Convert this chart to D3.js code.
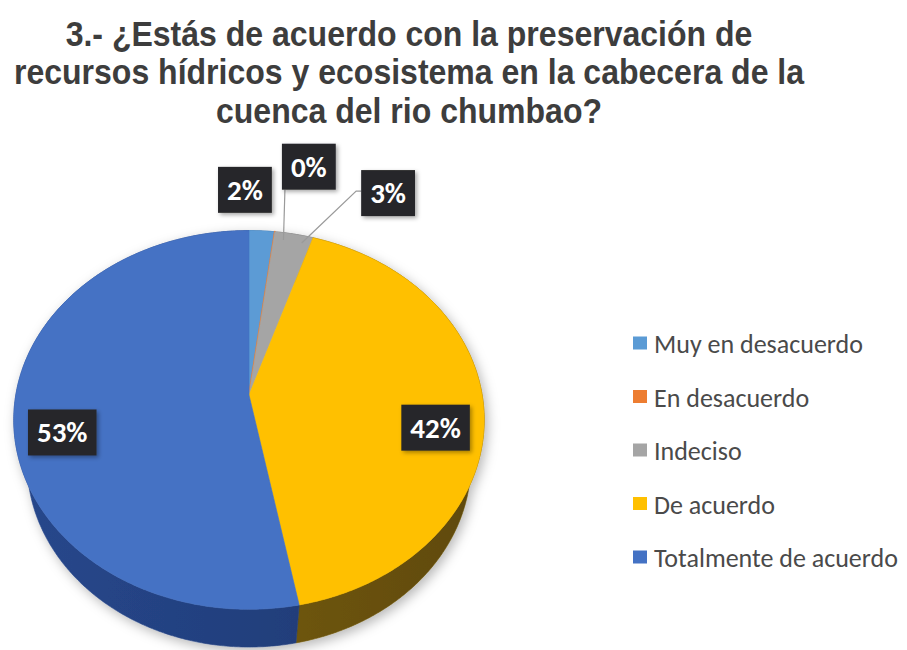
<!DOCTYPE html>
<html>
<head>
<meta charset="utf-8">
<script src="https://cdn.jsdelivr.net/npm/d3@7"></script>
<style>
  body { margin: 0; background: #ffffff; }
  svg { display: block; }
</style>
</head>
<body>
<svg id="chart" width="907" height="650"></svg>
<script>
// Survey question and answers
const titleLines = [
  "3.- ¿Estás de acuerdo con la preservación de",
  "recursos hídricos y ecosistema en la cabecera de la",
  "cuenca del rio chumbao?"
];
const categories = ["Muy en desacuerdo", "En desacuerdo", "Indeciso", "De acuerdo", "Totalmente de acuerdo"];
const values = [2, 0, 3, 42, 53];
const valueLabels = ["2%", "0%", "3%", "42%", "53%"];
const topColors = ["#5b9bd5", "#ed7d31", "#a5a5a5", "#ffc000", "#4472c4"];
const sideColors = ["#2c5c8c", "#8a4210", "#5e5e5e", "#6f5608", "#223f7c"];

// Placement of the small outside labels relative to their slice rim point
const outsideShift = [[-17, -41], [34, -65], [94, -41], null, null];
const hasLeader = [false, true, true, false, false];

const svg = d3.select("#chart");

const defs = svg.append("defs");
const shadow = defs.append("filter").attr("id", "pieShadow")
  .attr("x", "-20%").attr("y", "-20%").attr("width", "140%").attr("height", "140%");
shadow.append("feDropShadow").attr("dx", 3).attr("dy", 4)
  .attr("stdDeviation", 6).attr("flood-color", "#000").attr("flood-opacity", 0.28);
const boxShadow = defs.append("filter").attr("id", "boxShadow")
  .attr("x", "-30%").attr("y", "-30%").attr("width", "160%").attr("height", "160%");
boxShadow.append("feDropShadow").attr("dx", 2).attr("dy", 2)
  .attr("stdDeviation", 2).attr("flood-color", "#000").attr("flood-opacity", 0.35);

// Title: bold, set tall and slightly condensed
svg.append("g")
  .attr("transform", "translate(409, 0) scale(0.915, 1)")
  .selectAll("text").data(titleLines).join("text")
  .attr("x", 0)
  .attr("y", (d, i) => 46 + i * 38.5)
  .attr("text-anchor", "middle")
  .attr("font-family", "'Liberation Sans', Arial, sans-serif")
  .attr("font-weight", "bold")
  .attr("font-size", 35)
  .attr("fill", "#3d3d3d")
  .text(d => d);

// 3D pie: a tilted disc seen in perspective
const cx = 249, cy = 395;     // projected centre of the top face
const focal = 1068, dist = 4.58;
const sinT = 0.798, cosT = 0.603;
const thick = 0.339;           // slab thickness in disc radii

function project(theta, r, depth) {
  const u = r * Math.sin(theta), v = r * Math.cos(theta);
  const Y = v * sinT - depth * cosT;
  const Z = dist + v * cosT + depth * sinT;
  return [cx + focal * u / Z, cy - focal * Y / Z];
}

function arcPoints(a0, a1, r, depth) {
  const n = Math.max(2, Math.ceil(Math.abs(a1 - a0) / 0.01));
  return d3.range(n + 1).map(i => project(a0 + (a1 - a0) * i / n, r, depth));
}

const pie = d3.pie().sort(null).value(d => d).startAngle(0).endAngle(2 * Math.PI);
const arcs = pie(values);
const line = d3.line();

const pieG = svg.append("g").attr("filter", "url(#pieShadow)");

// Outer walls (drawn first; top faces cover the hidden back part)
const wallFill = arcs.map((a, i) => {
  const g = defs.append("linearGradient").attr("id", "wall" + i)
    .attr("gradientUnits", "userSpaceOnUse")
    .attr("x1", cx - 240).attr("y1", 0).attr("x2", cx + 240).attr("y2", 0);
  const base = d3.color(sideColors[i]);
  g.append("stop").attr("offset", "0%").attr("stop-color", base.brighter(0.35));
  g.append("stop").attr("offset", "55%").attr("stop-color", base);
  g.append("stop").attr("offset", "100%").attr("stop-color", base.darker(0.45));
  return "url(#wall" + i + ")";
});

pieG.append("g").selectAll("path").data(arcs.filter(a => a.endAngle > a.startAngle)).join("path")
  .attr("d", a => {
    const top = arcPoints(a.startAngle, a.endAngle, 1, 0);
    const bottom = arcPoints(a.endAngle, a.startAngle, 1, thick);
    return line(top.concat(bottom)) + "Z";
  })
  .attr("fill", a => wallFill[a.index])
  .attr("stroke", a => wallFill[a.index])
  .attr("stroke-width", 0.6);

// Top faces
pieG.append("g").selectAll("path").data(arcs).join("path")
  .attr("d", a => {
    const pts = [project(0, 0, 0)].concat(arcPoints(a.startAngle, a.endAngle, 1, 0));
    return line(pts) + "Z";
  })
  .attr("fill", a => topColors[a.index])
  .attr("stroke", a => topColors[a.index])
  .attr("stroke-width", a => a.value === 0 ? 1.8 : 0.6)
  .attr("stroke-linejoin", "round");

// Label anchor points
const labelPos = arcs.map(a => {
  const mid = (a.startAngle + a.endAngle) / 2;
  const sh = outsideShift[a.index];
  if (sh) {
    const p = project(mid, 1, 0);
    return { x: p[0] + sh[0], y: p[1] + sh[1], anchor: project(mid + 0.05, 0.95, 0) };
  }
  const p = project(mid, 0.82, thick / 2);
  return { x: p[0], y: p[1] };
});

// Data labels (dark callout boxes) with leader lines
const labelG = svg.append("g");
const font = "'Carlito', Calibri, Lato, 'Open Sans', sans-serif";
arcs.forEach((a, i) => {
  const pos = labelPos[i];
  const g = labelG.append("g");
  const t = g.append("text")
    .attr("x", pos.x).attr("y", pos.y)
    .attr("text-anchor", "middle").attr("dominant-baseline", "central")
    .attr("font-family", font).attr("font-weight", "bold")
    .attr("font-size", 29).attr("fill", "#ffffff")
    .text(valueLabels[i]);
  const bb = t.node().getBBox();
  const bw = bb.width + 18, bh = 46;
  g.insert("rect", "text")
    .attr("x", pos.x - bw / 2).attr("y", pos.y - bh / 2)
    .attr("width", bw).attr("height", bh)
    .attr("fill", "#28282b")
    .attr("filter", "url(#boxShadow)");
  if (hasLeader[i]) {
    const anc = pos.anchor;
    let pts;
    if (anc[0] < pos.x - bw / 2) {
      // comes in from the left: short elbow into the box's left side
      pts = [anc, [pos.x - bw / 2 - 5, pos.y - 2], [pos.x - bw / 2, pos.y - 2]];
    } else {
      pts = [anc, [pos.x - bw / 2 + 3, pos.y + bh / 2]];
    }
    labelG.insert("path", ":first-child")
      .attr("d", line(pts))
      .attr("fill", "none")
      .attr("stroke", "#9a9a9a")
      .attr("stroke-width", 1.2);
  }
});

// Legend
const legend = svg.append("g").attr("transform", "translate(633, 343)");
const rows = legend.selectAll("g").data(categories).join("g")
  .attr("transform", (d, i) => `translate(0, ${i * 53.5})`);
rows.append("rect")
  .attr("x", 0).attr("y", -6.5).attr("width", 14).attr("height", 13)
  .attr("fill", (d, i) => topColors[i]);
rows.append("text")
  .attr("x", 21).attr("y", 1)
  .attr("dominant-baseline", "central")
  .attr("font-family", font)
  .attr("font-size", 26)
  .attr("fill", "#4a4a4a")
  .text(d => d);
</script>
</body>
</html>
